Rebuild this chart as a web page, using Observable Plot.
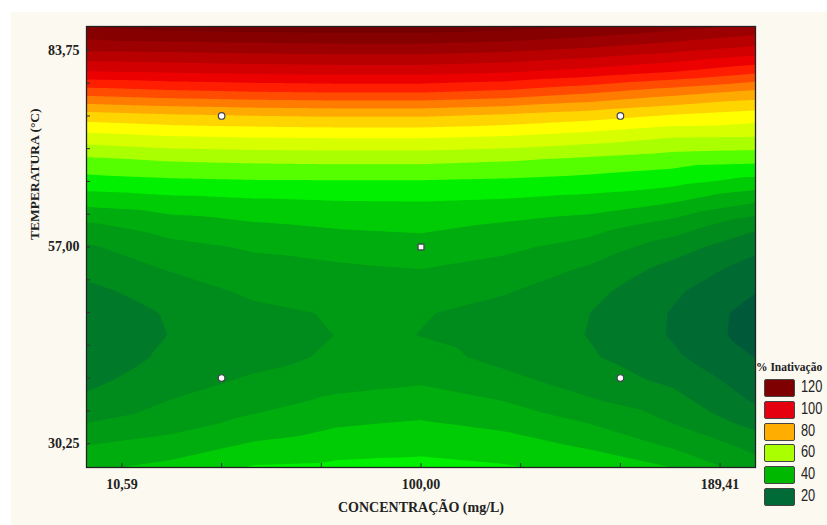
<!DOCTYPE html>
<html><head><meta charset="utf-8">
<script src="https://cdn.jsdelivr.net/npm/d3@7"></script>
<script src="https://cdn.jsdelivr.net/npm/@observablehq/plot@0.6"></script>
<style>
html,body{margin:0;padding:0;background:#fff;overflow:hidden;}
#wrap{position:relative;width:827px;height:525px;overflow:hidden;}
#bg{position:absolute;left:11px;top:12px;right:0;bottom:0;background:#fcf9f0;}
#chart{position:absolute;left:0;top:0;}
#legend{position:absolute;left:756px;top:361px;width:70px;}
#legend .title{font-family:"Liberation Serif",serif;font-weight:bold;font-size:11.5px;color:#222;white-space:nowrap;height:15px;}
#legend .row{position:absolute;left:8px;height:17px;}
#legend .sw{position:absolute;left:0;top:0;width:29px;height:16px;border:1px solid #444;border-radius:2px;}
#legend .lb{position:absolute;left:37px;top:-1px;font-family:"Liberation Sans",sans-serif;font-size:16px;color:#222;line-height:18px;transform:scaleX(0.8);transform-origin:left center;white-space:nowrap;}
</style></head><body>
<div id="wrap"><div id="bg"></div><div id="chart"></div><div id="legend"></div></div>
<script>
// Grid: concentration (mg/L) columns, temperature (°C) rows
const concentrations = [0, 25, 50, 75, 87.5, 100, 125, 150, 175, 200];
const temperatures = [87, 84, 81, 78, 75, 72, 69, 66, 63, 60, 57, 54, 51, 48, 45, 42, 39, 36, 33, 30, 27];
const inactivation = [
  [125.0, 126.9, 127.6, 128.0, 128.0, 128.0, 126.9, 124.7, 122.0, 119.0],
  [116.3, 116.7, 117.3, 117.7, 117.7, 117.7, 116.7, 114.7, 112.0, 108.8],
  [105.4, 106.2, 106.9, 107.3, 107.3, 107.3, 106.2, 103.8, 100.8, 96.8],
  [92.0, 93.5, 94.5, 95.0, 95.0, 95.0, 93.5, 90.5, 86.8, 83.4],
  [78.3, 79.7, 80.5, 81.0, 81.0, 81.0, 79.7, 77.7, 75.0, 73.0],
  [68.1, 69.7, 70.3, 70.6, 70.6, 70.6, 69.7, 67.8, 65.3, 65.0],
  [59.3, 60.8, 61.4, 61.7, 61.7, 61.7, 60.8, 59.3, 57.6, 56.8],
  [53.2, 54.2, 54.7, 54.8, 54.8, 54.8, 54.3, 53.3, 51.8, 48.5],
  [46.3, 47.8, 48.8, 49.5, 49.6, 49.7, 49.0, 47.7, 45.0, 40.0],
  [39.2, 42.5, 44.4, 45.6, 45.9, 46.2, 44.4, 42.5, 38.0, 31.5],
  [34.3, 38.5, 40.6, 42.2, 42.7, 43.0, 41.1, 38.1, 32.5, 26.1],
  [31.4, 35.4, 38.2, 39.0, 39.6, 40.0, 38.2, 34.4, 28.3, 22.9],
  [28.8, 32.2, 36.1, 36.8, 37.5, 37.6, 35.45, 31.6, 25.9, 20.2],
  [27.5, 30.4, 33.65, 35.5, 36.3, 35.4, 33.1, 30.1, 24.7, 17.9],
  [27.0, 30.1, 32.3, 35.1, 36.0, 34.85, 32.5, 29.85, 24.6, 17.7],
  [27.4, 30.8, 33.1, 35.9, 36.8, 36.9, 33.5, 30.7, 26.0, 19.9],
  [28.7, 32.55, 35.7, 37.9, 38.6, 39.2, 36.25, 32.6, 28.8, 22.2],
  [31.0, 35.2, 38.1, 41.1, 41.7, 42.2, 40.0, 35.7, 32.0, 24.5],
  [35.1, 38.0, 41.4, 44.4, 45.0, 45.5, 43.75, 40.0, 35.0, 28.3],
  [40.0, 42.0, 45.8, 47.8, 48.2, 48.5, 47.2, 44.3, 39.3, 33.5],
  [44.0, 46.5, 50.5, 51.1, 51.4, 51.5, 50.5, 48.5, 45.0, 37.0]
];
const levels = [15, 20, 25, 30, 35, 40, 45, 50, 55, 60, 65, 70, 75, 80, 85, 90, 95, 100, 105, 110, 115, 120, 125, 130];
const colorValues = [10, 15, 20, 25, 30, 35, 40, 45, 50, 55, 60, 65, 70, 75, 80, 85, 90, 95, 100, 105, 110, 115, 120, 125, 130];
const colorHex = ["#00483f","#005a3a","#006a33","#007a28","#008b1d","#009b14","#00ad0e","#00cc06","#00f000","#55ff00","#aaff00","#d8ff00","#ffff00","#ffd500","#ffaa00","#ff7c00","#ff4c00","#ff1e00","#ec0000","#d20000","#b80000","#9c0000","#860000","#760000","#6a0000"];

// Experimental design points
const designConc = [40.39, 159.61, 40.39, 159.61];
const designTemp = [74.83, 74.83, 39.17, 39.17];
const centerConc = [100];
const centerTemp = [57];

// Axis ticks
const xTicks = [10.59, 40.39, 70.20, 100.00, 129.80, 159.61, 189.41];
const xLabelTicks = [10.59, 100.00, 189.41];
const yTicks = [30.25, 34.71, 39.17, 43.63, 48.08, 52.54, 57.00, 61.46, 65.92, 70.38, 74.83, 79.29, 83.75];
const yLabelTicks = [30.25, 57.00, 83.75];

// Legend
const legendValues = [120, 100, 80, 60, 40, 20];
const legendColors = ["#7f0000", "#e5000f", "#ffad00", "#aaff00", "#00b800", "#006b36"];

const samples = [];
temperatures.forEach((t, i) => concentrations.forEach((c, j) => samples.push({x: c, y: t, v: inactivation[i][j]})));
const design = designConc.map((c, i) => ({x: c, y: designTemp[i]}));
const center = centerConc.map((c, i) => ({x: c, y: centerTemp[i]}));
const fmt = d => d.toFixed(2).replace(".", ",");
const serif = "'Liberation Serif', 'Times New Roman', serif";
const xMin = 0, xMax = 200, yMin = 27, yMax = 87;

const chart = Plot.plot({
  width: 827,
  height: 525,
  marginLeft: 86,
  marginRight: 72,
  marginTop: 26,
  marginBottom: 58,
  style: {background: "transparent", fontFamily: serif, color: "#222"},
  x: {domain: [xMin, xMax]},
  y: {domain: [yMin, yMax]},
  color: {type: "linear", domain: colorValues, range: colorHex, interpolate: "rgb"},
  marks: [
    Plot.contour(samples, {x: "x", y: "y", fill: "v", interpolate: "barycentric", thresholds: levels, stroke: "none"}),
    // inward tick marks (short rules from the frame edge)
    Plot.ruleX(xTicks, {x: d => d, y1: yMin, y2: yMin + 0.55, stroke: "#333", strokeWidth: 1}),
    Plot.ruleY(yTicks, {y: d => d, x1: xMin, x2: xMin + 1.2, stroke: "#333", strokeWidth: 1}),
    Plot.frame({stroke: "#222", strokeWidth: 1.3}),
    Plot.axisX(xLabelTicks, {tickSize: 0, tickPadding: 12, tickFormat: fmt, label: null, fontSize: 14, fontWeight: "bold", fontFamily: serif, fill: "#222"}),
    Plot.axisY(yLabelTicks, {tickSize: 0, tickPadding: 7, tickFormat: fmt, label: null, fontSize: 14, fontWeight: "bold", fontFamily: serif, fill: "#222"}),
    Plot.text(["CONCENTRAÇÃO (mg/L)"], {text: d => d, frameAnchor: "bottom", dy: 44, fontSize: 14, fontWeight: "bold", fontFamily: serif, fill: "#222"}),
    Plot.text(["TEMPERATURA (°C)"], {text: d => d, frameAnchor: "left", dx: -52, dy: -7, rotate: -90, fontSize: 13.5, fontWeight: "bold", fontFamily: serif, fill: "#222"}),
    Plot.dot(design, {x: "x", y: "y", r: 3.3, fill: "white", stroke: "#445", strokeWidth: 1.2}),
    Plot.dot(center, {x: "x", y: "y", r: 3.3, symbol: "square", fill: "white", stroke: "#445", strokeWidth: 1.2})
  ]
});
document.getElementById("chart").appendChild(chart);

const legend = document.getElementById("legend");
const title = document.createElement("div");
title.className = "title";
title.textContent = "% Inativação";
legend.appendChild(title);
legendValues.forEach((v, i) => {
  const row = document.createElement("div");
  row.className = "row";
  row.style.top = (18 + i * 21.8) + "px";
  const sw = document.createElement("div");
  sw.className = "sw";
  sw.style.background = legendColors[i];
  const lb = document.createElement("div");
  lb.className = "lb";
  lb.textContent = v;
  row.appendChild(sw);
  row.appendChild(lb);
  legend.appendChild(row);
});
</script>
</body></html>
